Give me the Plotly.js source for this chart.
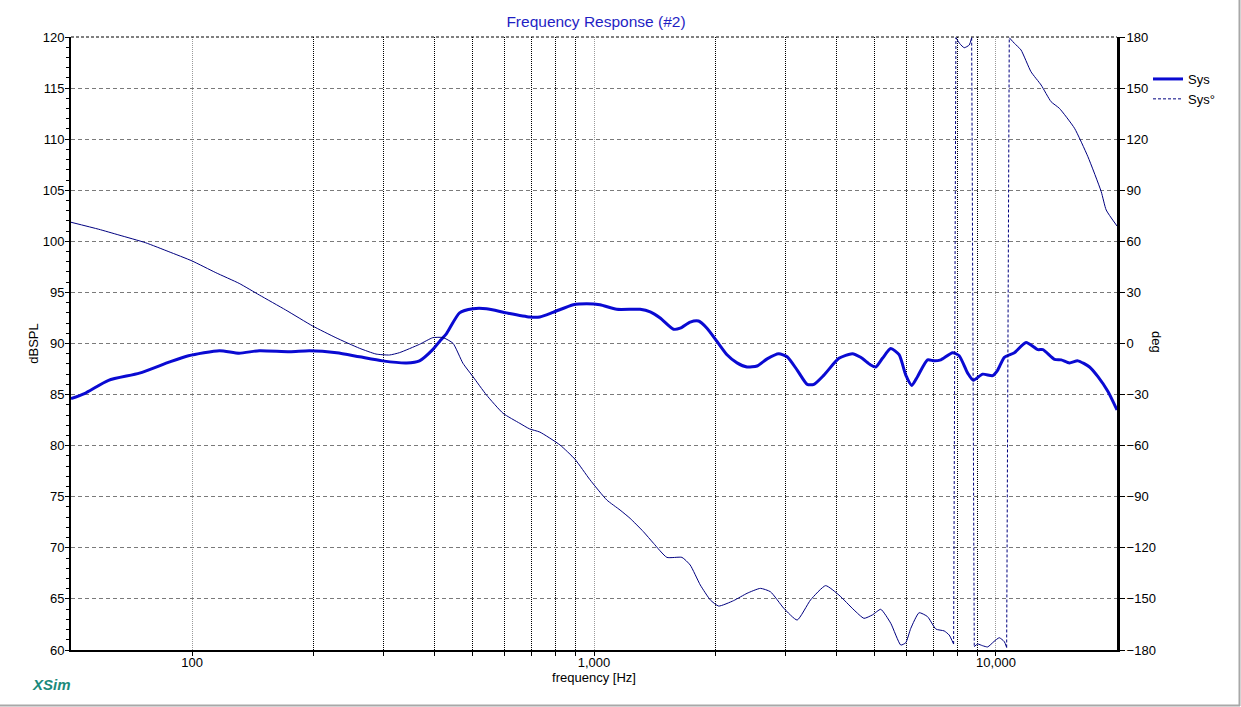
<!DOCTYPE html>
<html>
<head>
<meta charset="utf-8">
<script src="https://cdn.plot.ly/plotly-3.0.1.min.js"></script>
<style>
  html, body { margin: 0; padding: 0; background: #ffffff; }
  #chart { width: 1241px; height: 707px; }
</style>
</head>
<body>
<div id="chart"></div>
<script>
// Sys magnitude response (dBSPL) vs frequency (Hz)
const magFreq = [50, 54, 62, 74, 88, 98, 117, 131, 147, 175, 196, 229, 261, 298, 342, 368, 397, 413, 430, 463,
  500, 540, 606, 692, 733, 791, 888, 959, 1035, 1139, 1302, 1380, 1461, 1577, 1639, 1735, 1820, 1910, 2023, 2142,
  2269, 2403, 2545, 2696, 2881, 3023, 3202, 3392, 3524, 3731, 4067, 4392, 4606, 4879, 5020, 5219, 5473, 5741, 5965, 6172,
  6378, 6756, 7018, 7292, 7798, 8099, 8502, 8780, 9266, 9812, 10100, 10490, 11110, 11880, 12710, 13080, 13980, 14530,
  15230, 15990, 17090, 17930, 18990, 20000];
const magDb = [84.6, 85.1, 86.4, 87.1, 88.2, 88.8, 89.3, 89.05, 89.3, 89.2, 89.3, 89.1, 88.7, 88.3, 88.1, 88.3, 89.4, 90.2, 91.0, 93.0,
  93.4, 93.4, 93.0, 92.6, 92.6, 93.05, 93.8, 93.9, 93.8, 93.35, 93.35, 93.1, 92.5, 91.4, 91.5, 92.1, 92.2, 91.5, 90.2, 88.9,
  88.1, 87.7, 87.8, 88.5, 89.0, 88.7, 87.4, 86.0, 86.0, 86.9, 88.55, 89.0, 88.65, 87.9, 87.7, 88.55, 89.5, 88.9, 86.9, 85.9,
  86.75, 88.4, 88.3, 88.4, 89.1, 88.8, 87.1, 86.4, 87.0, 86.85, 87.4, 88.65, 89.1, 90.1, 89.4, 89.4, 88.45, 88.4,
  88.1, 88.3, 87.7, 86.75, 85.3, 83.5];

// Sys phase (deg), wrapped to +/-180
const phFreq = [50, 58.6, 65.8, 76.6, 87.6, 100, 114.6, 131, 147, 171, 199.5, 228, 261, 287, 310, 328, 368, 397, 421, 446,
  472, 500, 540, 594, 654, 692, 733, 823, 897, 977, 1076, 1161, 1230, 1327, 1406, 1518, 1655, 1735, 1838, 1947,
  2042, 2225, 2403, 2594, 2748, 2966, 3202, 3457, 3768, 4067, 4434, 4695, 4926, 5168, 5473, 5796, 5965, 6138, 6437, 6756,
  7087, 7432, 7648, 7845, 7948, 8133, 8336, 8580, 8700, 8829, 9002, 9266, 9535, 9886, 10190, 10490, 10630, 10790, 11110, 11540,
  12220, 12950, 13710, 14380, 15680, 16930, 18270, 18800, 20000];
const phDeg = [71.2, 67.1, 63.7, 59.2, 53.9, 48.5, 41.6, 35.3, 28.5, 19.7, 10.3, 3.4, -2.8, -6.2, -6.75, -5.4, -0.5, 3.4, 3.5, 0.1,
  -11.6, -19.5, -30.2, -41, -46.9, -50.2, -52, -59.6, -68, -80, -91.9, -97.8, -102.7, -110.5, -117.3, -125.6, -125.6, -130.1, -141.8, -150.6,
  -154.2, -151.0, -146.7, -143.8, -145.8, -155.5, -162.4, -150.6, -142.2, -147.7, -156.5, -161.4, -159.4, -156.1, -164.3, -177.1, -175.7, -167.3, -158.1, -160.4,
  -167.7, -168.8, -171.2, -176.5, 179.6, 176, 173.7, 175.3, 179.6, -178, -176.5, -177.5, -178.2, -175, -172.8, -175.1, -178.5, 179.6, 176.3, 172.4,
  159.6, 151.8, 142, 138.1, 126.4, 109.7, 89.2, 78.4, 69];

// Axis labels
const xTickVals = [100, 1000, 10000];
const xTickText = ['100', '1,000', '10,000'];
const xMinorVals = [200, 300, 400, 500, 600, 700, 800, 900, 2000, 3000, 4000, 5000, 6000, 7000, 8000, 9000];

// Split the wrapped phase into the continuous curve and the +/-180 wrap connectors
const curveX = [], curveY = [], wrapX = [], wrapY = [];
for (let i = 0; i < phFreq.length; i++) {
  if (i > 0 && Math.abs(phDeg[i] - phDeg[i - 1]) > 180) {
    curveX.push(null); curveY.push(null);
    wrapX.push(phFreq[i - 1], phFreq[i], null);
    wrapY.push(phDeg[i - 1], phDeg[i], null);
  }
  curveX.push(phFreq[i]); curveY.push(phDeg[i]);
}

const FONT = 'Liberation Sans, Arial, sans-serif';
const magColor = '#0a0ad2';
const phColor = '#000080';

const traces = [
  { x: magFreq, y: magDb, name: 'Sys', type: 'scatter', mode: 'lines',
    line: { color: magColor, width: 3, shape: 'spline', smoothing: 0.6 }, yaxis: 'y' },
  { x: curveX, y: curveY, name: 'Sys°', type: 'scatter', mode: 'lines',
    line: { color: phColor, width: 1, shape: 'spline', smoothing: 0.5 }, yaxis: 'y2', showlegend: false, connectgaps: false },
  { x: wrapX, y: wrapY, name: 'Sys°', type: 'scatter', mode: 'lines',
    line: { color: phColor, width: 1, dash: '3px,2px' }, yaxis: 'y2', connectgaps: false }
];

// plot area: 71..1117 px horizontally, 37..650 px vertically
const L = 71, R = 1117, T = 37, B = 650;
const px = v => (v - L) / (R - L);
const py = v => (B - v) / (B - T);

const layout = {
  width: 1241, height: 707,
  margin: { l: L, r: 1241 - R, t: T, b: 707 - B },
  paper_bgcolor: '#ffffff', plot_bgcolor: '#ffffff',
  font: { family: FONT, size: 13, color: '#000000' },
  showlegend: true,
  title: { text: 'Frequency Response (#2)', x: px(596), xref: 'paper', xanchor: 'center', y: 1 - 22 / 707, yanchor: 'middle',
    font: { family: FONT, size: 15.5, color: '#1f1fc4' } },
  xaxis: {
    type: 'log', range: [Math.log10(50), Math.log10(20000)], automargin: false,
    tickmode: 'array', tickvals: xTickVals, ticktext: xTickText,
    ticks: 'outside', ticklen: 4, tickcolor: '#000', tickfont: { size: 13 }, ticklabelstandoff: -5,
    showgrid: true, gridcolor: '#9a9a9a', griddash: '1px,1px', gridwidth: 1,
    minor: { tickmode: 'array', tickvals: xMinorVals, ticks: 'outside', ticklen: 4, tickcolor: '#000',
      showgrid: true, gridcolor: '#000000', griddash: '1px,1px', gridwidth: 1 },
    showline: true, linecolor: '#000000', linewidth: 2, zeroline: false,
    title: { text: 'frequency [Hz]', standoff: 2, font: { size: 13 } }
  },
  yaxis: {
    range: [60, 120], dtick: 5, tick0: 60, automargin: false,
    ticks: 'outside', ticklen: 4, tickcolor: '#000', tickfont: { size: 13 }, ticklabelstandoff: -2,
    showgrid: true, gridcolor: '#7a7a7a', griddash: '4px,3px', gridwidth: 1,
    minor: { dtick: 1, ticks: 'outside', ticklen: 3, tickcolor: '#000', showgrid: false },
    showline: true, linecolor: '#000000', linewidth: 2, zeroline: false,
    title: { text: 'dBSPL', standoff: 1, font: { size: 13 } }
  },
  yaxis2: {
    overlaying: 'y', side: 'right', range: [-180, 180], dtick: 30, tick0: -180, automargin: false,
    ticks: 'outside', ticklen: 5, tickcolor: '#000', tickfont: { size: 13 }, ticklabelstandoff: -1,
    showgrid: false, zeroline: false,
    showline: true, linecolor: '#000000', linewidth: 3
  },
  legend: {
    x: px(1148), y: py(64), xanchor: 'left', yanchor: 'top',
    bgcolor: 'rgba(0,0,0,0)', borderwidth: 0, itemwidth: 30,
    font: { family: FONT, size: 13, color: '#000' }, tracegroupgap: 0
  },
  annotations: [
    { text: 'deg', xref: 'paper', yref: 'paper', x: px(1157), y: py(342), textangle: 90,
      xanchor: 'center', yanchor: 'middle',
      showarrow: false, font: { family: FONT, size: 13, color: '#000' } },
    { text: '<b><i>XSim</i></b>', xref: 'paper', yref: 'paper', x: px(51), y: py(684),
      xanchor: 'center', yanchor: 'middle',
      showarrow: false, font: { family: FONT, size: 15, color: '#1b8a7b' } }
  ],
  shapes: [
    // dashed frame line along the top of the plot area
    { type: 'line', xref: 'paper', yref: 'paper', x0: 0, x1: 1, y0: 1, y1: 1,
      line: { color: '#000000', width: 1, dash: '3px,2px' } },
    // window frame edges
    { type: 'line', xref: 'paper', yref: 'paper', x0: px(0), x1: px(1240), y0: py(705.5), y1: py(705.5),
      line: { color: '#a8a8a8', width: 2 } },
    { type: 'line', xref: 'paper', yref: 'paper', x0: px(1239.5), x1: px(1239.5), y0: py(0), y1: py(706),
      line: { color: '#a8a8a8', width: 2 } }
  ]
};

Plotly.newPlot('chart', traces, layout, { staticPlot: true, displayModeBar: false });
</script>
</body>
</html>
